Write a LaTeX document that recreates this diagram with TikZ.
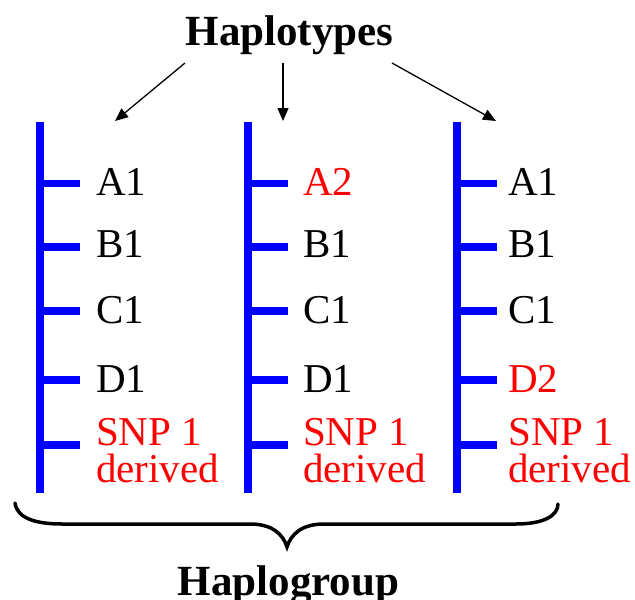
\documentclass[tikz,border=0pt]{standalone}
\usepackage{fontspec}
\setmainfont{Liberation Serif}
\usetikzlibrary{arrows.meta}
\begin{document}
\begin{tikzpicture}[x=1pt,y=-1pt,
  bar/.style={blue, line width=8pt},
  tickmark/.style={blue, line width=7.5pt},
  lab/.style={anchor=base west, inner sep=0pt, font=\fontsize{41}{45}\selectfont},
  title/.style={anchor=base, inner sep=0pt, font=\fontsize{43}{48}\selectfont\bfseries},
  arr/.style={line width=1.3pt, -{Triangle[length=13pt,width=11pt]}},
  bracestyle/.style={line width=3.5pt, line join=miter, line cap=round}
]
\useasboundingbox (0,0) rectangle (635,600);

\node[title] (haplotypes) at (289.5,45) {Haplotypes};

\coordinate (s1) at (185,63);  \coordinate (t1) at (115,121);
\coordinate (s2) at (283,63);  \coordinate (t2) at (283,121);
\coordinate (s3) at (392,63);  \coordinate (t3) at (496,121);
\draw[arr] (s1) -- (t1);
\draw[arr] (s2) -- (t2);
\draw[arr] (s3) -- (t3);

\foreach \i/\x/\tx/\a/\ac/\d/\dc in {1/40/96/A1/black/D1/black, 2/248/303/A2/red/D1/black, 3/457/508/A1/black/D2/red}{
  \draw[bar] (\x,122) -- (\x,493);
  \foreach \y in {183.5,247,311,380,445}{
    \draw[tickmark] (\x,\y) -- (\x+40,\y);
  }
  \node[lab, text=\ac] (a\i) at (\tx,195) {\a};
  \node[lab] (b\i) at (\tx,257) {B1};
  \node[lab] (c\i) at (\tx,323) {C1};
  \node[lab, text=\dc] (d\i) at (\tx,392) {\d};
  \node[lab, text=red] (snp\i) at (\tx,445) {SNP 1};
  \node[lab, text=red] (der\i) at (\tx,482) {derived};
}

\draw[bracestyle] (15,503) .. controls (17,518) and (35,524) .. (62,524)
  -- (250,524) .. controls (272,524) and (283,534) .. (287,547)
  .. controls (291,534) and (302,524) .. (324,524)
  -- (516,524) .. controls (543,524) and (558,516) .. (558,504);

\node[title] (haplogroup) at (288.5,595) {Haplogroup};
\end{tikzpicture}
\end{document}
